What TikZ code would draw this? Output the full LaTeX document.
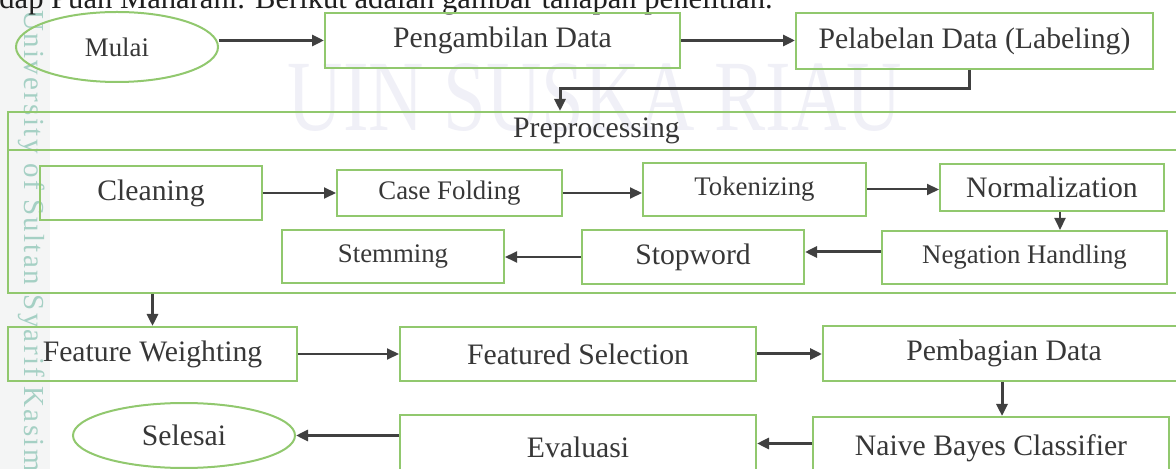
\documentclass[tikz,border=0pt]{standalone}
\usepackage{fontspec}
\usepackage{graphicx}
\setmainfont{Liberation Serif}
\newfontfamily\stripfont[LetterSpace=8]{Liberation Serif}
\usetikzlibrary{arrows.meta,shapes.geometric}

\definecolor{boxgreen}{RGB}{145,200,110}
\definecolor{arrgray}{RGB}{64,64,64}
\definecolor{txtgray}{RGB}{55,55,55}
\definecolor{wmark}{RGB}{240,240,247}
\definecolor{stripgray}{RGB}{244,245,245}
\definecolor{striptext}{RGB}{165,208,196}

\newcommand\dgbig{\fontsize{14.85}{16}\selectfont}
\newcommand\dgsmall{\fontsize{13.4}{15}\selectfont}

\begin{document}
\begin{tikzpicture}[x=0.5pt,y=-0.5pt,
  stepbox/.style={draw=boxgreen, line width=1pt, inner sep=0pt, text=txtgray, font=\dgbig},
  termbox/.style={stepbox, ellipse},
  arr/.style={draw=arrgray, line width=1.5pt, -{Triangle[length=6pt,width=5.5pt]}},
  arrthin/.style={arr, line width=1pt}]

\useasboundingbox (0,0) rectangle (1176,469);

% left margin band with vertical university name
\fill[stripgray] (0,0) rectangle (50,469);
\node[rotate=-90, anchor=base west, inner sep=0pt, text=striptext,
      font=\stripfont\fontsize{14.5}{16}\selectfont] (uni) at (25,10)
      {University of Sultan Syarif Kasim};

% faint background lettering
\node[anchor=base, inner sep=0pt, text=wmark, font=\fontsize{50.5}{55}\selectfont] (wm)
      at (595,131) {\scalebox{0.76}[1]{UIN SUSKA RIAU}};

% running text line above the chart
\node[anchor=base west, inner sep=0pt, text=black!88, font=\fontsize{15.3}{17}\selectfont] (intro)
      at (-1,8.5) {dap Puan Maharani. Berikut adalah gambar tahapan penelitian.};

% first row
\node[termbox, minimum width=101pt, minimum height=35pt, font=\dgsmall] (mulai) at (117,47) {Mulai};
\node[stepbox, minimum width=177.5pt, minimum height=27.5pt] (pengambilan) at (502.5,40.5) {Pengambilan Data};
\node[stepbox, minimum width=178.5pt, minimum height=28pt] (pelabelan) at (974.5,41) {Pelabelan Data (Labeling)};

% preprocessing frame
\node[stepbox, minimum width=588.5pt, minimum height=19pt] (pretitle) at (596.5,131) {Preprocessing};
\node[stepbox, minimum width=588.5pt, minimum height=71.5pt] (prebody) at (596.5,221.5) {};

\node[stepbox, minimum width=111pt, minimum height=27pt] (cleaning) at (151,193) {Cleaning};
\node[stepbox, minimum width=112.5pt, minimum height=23pt, font=\dgsmall] (casefolding) at (449.5,193) {Case Folding};
\node[stepbox, minimum width=111.5pt, minimum height=26.5pt, font=\dgsmall] (tokenizing) at (754.5,189.5) {Tokenizing};
\node[stepbox, minimum width=112pt, minimum height=23.5pt] (normalization) at (1052,187.5) {Normalization};
\node[stepbox, minimum width=142.5pt, minimum height=26.5pt, font=\dgsmall] (negation) at (1024.5,257.5) {Negation Handling};
\node[stepbox, minimum width=111pt, minimum height=27pt] (stopword) at (693,257) {Stopword};
\node[stepbox, minimum width=111pt, minimum height=26.5pt, font=\dgsmall] (stemming) at (393,256.5) {Stemming};

% lower rows
\node[stepbox, minimum width=144.5pt, minimum height=27pt] (weighting) at (152.5,354) {Feature Weighting};
\node[stepbox, minimum width=178pt, minimum height=27pt] (selection) at (578,354) {Featured Selection};
\node[stepbox, minimum width=181pt, minimum height=27.5pt] (pembagian) at (1004,353.5) {Pembagian Data};
\node[stepbox, minimum width=178pt, minimum height=31.5pt] (naive) at (991,448.5) {Naive Bayes Classifier};
\node[stepbox, minimum width=178pt, minimum height=32.5pt] (evaluasi) at (578,447.5) {Evaluasi};
\node[termbox, minimum width=111pt, minimum height=32.5pt] (selesai) at (184,435.5) {Selesai};

% connectors
\coordinate (jog) at (560,89);
\draw[arr] (mulai.east |- pengambilan.west) -- (pengambilan.west);
\draw[arr] (pengambilan.east) -- (pengambilan.east -| pelabelan.west);
\draw[arr] ([xshift=-2.75pt]pelabelan.south) |- (jog) -- (jog |- pretitle.north);

\draw[arrthin] (cleaning.east) -- (cleaning.east -| casefolding.west);
\draw[arrthin] (casefolding.east) -- (casefolding.east -| tokenizing.west);
\draw[arrthin] (tokenizing.east) -- (tokenizing.east -| normalization.west);
\draw[arrthin] ([xshift=4pt]normalization.south) -- ([xshift=4pt]normalization.south |- negation.north);
\draw[arr] ([yshift=2.75pt]negation.west) -- ([yshift=2.75pt]negation.west -| stopword.east);
\draw[arrthin] (stopword.west) -- (stopword.west -| stemming.east);

\draw[arr] (prebody.south -| weighting.north) -- (weighting.north);
\draw[arrthin] (weighting.east) -- (weighting.east -| selection.west);
\draw[arr] (selection.east) -- (selection.east -| pembagian.west);
\draw[arr] ([xshift=-1pt]pembagian.south) -- ([xshift=-1pt]pembagian.south |- naive.north);
\draw[arr] ([yshift=2.5pt]naive.west) -- ([yshift=2.5pt]naive.west -| evaluasi.east);
\draw[arr] (evaluasi.west |- selesai.east) -- (selesai.east);
\end{tikzpicture}
\end{document}
